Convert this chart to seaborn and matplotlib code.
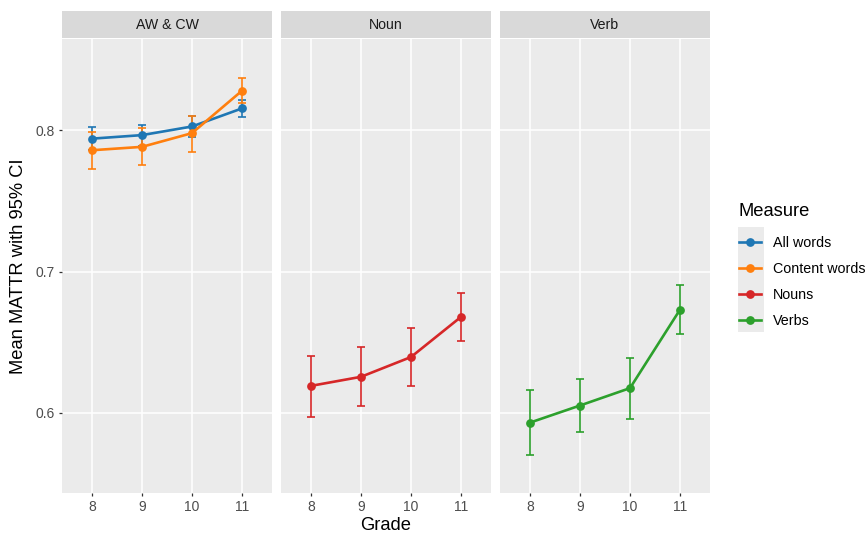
import matplotlib
matplotlib.use("Agg")
import numpy as np
import pandas as pd
import matplotlib.pyplot as plt
import seaborn as sns
from matplotlib.patches import Rectangle
from matplotlib.lines import Line2D

grades = [8, 9, 10, 11]

all_words_mean = [0.7940, 0.7965, 0.8026, 0.8154]
all_words_lo = [0.7860, 0.7890, 0.7955, 0.8090]
all_words_hi = [0.8020, 0.8040, 0.8097, 0.8215]

content_mean = [0.7858, 0.7882, 0.7979, 0.8279]
content_lo = [0.7723, 0.7757, 0.7849, 0.8190]
content_hi = [0.7988, 0.8012, 0.8097, 0.8367]

nouns_mean = [0.6191, 0.6255, 0.6395, 0.6679]
nouns_lo = [0.5974, 0.6045, 0.6191, 0.6511]
nouns_hi = [0.6404, 0.6466, 0.6601, 0.6849]

verbs_mean = [0.5931, 0.6052, 0.6175, 0.6730]
verbs_lo = [0.5704, 0.5863, 0.5960, 0.6560]
verbs_hi = [0.6161, 0.6241, 0.6390, 0.6906]

measures = ["All words", "Content words", "Nouns", "Verbs"]
facets = ["AW & CW", "AW & CW", "Noun", "Verb"]
panel_names = ["AW & CW", "Noun", "Verb"]
colors = ["#1f77b4", "#ff7f0e", "#d62728", "#2ca02c"]

rows = []
for m, f, mean, lo, hi in zip(measures, facets,
                              [all_words_mean, content_mean, nouns_mean, verbs_mean],
                              [all_words_lo, content_lo, nouns_lo, verbs_lo],
                              [all_words_hi, content_hi, nouns_hi, verbs_hi]):
    for g, v, l, h in zip(grades, mean, lo, hi):
        rows.append({"Grade": g, "MATTR": v, "lo": l, "hi": h, "Measure": m, "panel": f})
df = pd.DataFrame(rows)
palette = dict(zip(measures, colors))

plt.rcParams["font.family"] = ["Liberation Sans", "DejaVu Sans"]

W, H = 868, 534
fig = plt.figure(figsize=(W / 100, H / 100), dpi=100)
fig.patch.set_facecolor("white")

panel_left = [62, 281, 500]
panel_w = 210
top, bottom = 39, 493

axes = []
for i, name in enumerate(panel_names):
    ax = fig.add_axes([panel_left[i] / W, (H - bottom) / H, panel_w / W, (bottom - top) / H])
    axes.append(ax)
    ax.set_facecolor("#EBEBEB")
    for s in ax.spines.values():
        s.set_visible(False)
    ax.grid(True, color="white", lw=1.1)
    ax.set_axisbelow(True)

    sub = df[df["panel"] == name]
    for m in sub["Measure"].unique():
        d = sub[sub["Measure"] == m]
        ax.errorbar(d["Grade"], d["MATTR"],
                    yerr=[d["MATTR"] - d["lo"], d["hi"] - d["MATTR"]],
                    fmt="none", ecolor=palette[m], elinewidth=1.2,
                    capsize=3.2, capthick=1.2, zorder=2)
    sns.lineplot(data=sub, x="Grade", y="MATTR", hue="Measure", palette=palette,
                 marker="o", markersize=6.3, markeredgewidth=0, linewidth=1.9,
                 errorbar=None, legend=False, ax=ax, zorder=3)

    ax.set_xlim(7.4, 11.6)
    ax.set_ylim(0.5433, 0.8645)
    ax.set_xticks(grades)
    ax.set_xticklabels([str(g) for g in grades])
    ax.set_yticks([0.6, 0.7, 0.8])
    ax.set_yticklabels(["0.6", "0.7", "0.8"])
    ax.tick_params(axis="both", length=2.5, width=0.9, color="#333333",
                   labelcolor="#4D4D4D", labelsize=10, pad=2.5)
    ax.set_xlabel("")
    ax.set_ylabel("")
    if i > 0:
        ax.tick_params(axis="y", left=False, labelleft=False)

    # facet strip
    ax.add_patch(Rectangle((0, 1.0015), 1, 0.0600, transform=ax.transAxes,
                           facecolor="#D9D9D9", edgecolor="none", clip_on=False))
    ax.text(0.5, 1.0315, name, transform=ax.transAxes, ha="center", va="center",
            fontsize=10.2, color="#1A1A1A")

axes[0].set_ylabel("Mean MATTR with 95% CI", fontsize=13.2, color="black")
axes[0].yaxis.set_label_coords((18.5 - 62) / panel_w, 0.5)
axes[0].yaxis.label.set_va("center")
axes[1].set_xlabel("Grade", fontsize=13.2, color="black")
axes[1].xaxis.set_label_coords(0.5, (bottom - 526) / (bottom - top))
axes[1].xaxis.label.set_va("center")

# legend
handles = [Line2D([], [], color=c, lw=1.9, marker="o", markersize=6.3, markeredgewidth=0)
           for c in colors]
fig.patches.append(Rectangle((738 / W, (H - 332) / H), 26 / W, 105 / H,
                             transform=fig.transFigure, facecolor="#EBEBEB",
                             edgecolor="none", zorder=0))
leg = fig.legend(handles, measures, title="Measure", loc="upper left",
                 bbox_to_anchor=(739 / W, (H - 203) / H), frameon=False,
                 fontsize=10.3, title_fontsize=13.2, handlelength=1.54,
                 handletextpad=0.82, labelspacing=0.83, borderaxespad=0,
                 borderpad=0)
leg._legend_box.align = "left"
leg._legend_box.sep = 11.5

fig.savefig("out.png", dpi=100, facecolor="white")
